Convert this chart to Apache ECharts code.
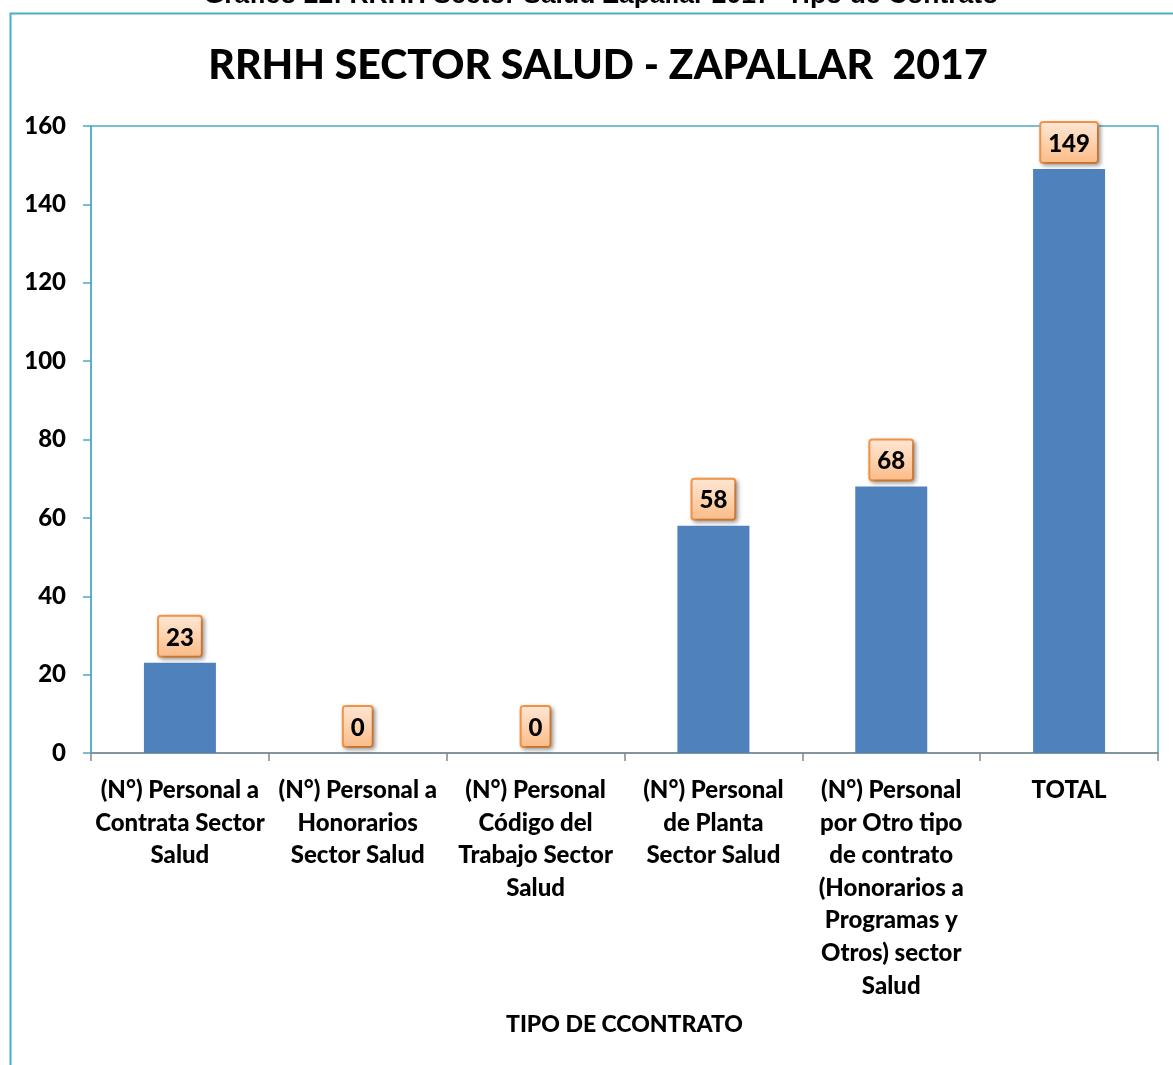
<!DOCTYPE html>
<html>
<head>
<meta charset="utf-8">
<script src="https://cdn.jsdelivr.net/npm/echarts@6/dist/echarts.min.js"></script>
<style>
  html, body { margin: 0; padding: 0; background: #fff; }
  #chart { width: 1173px; height: 1065px; }
</style>
</head>
<body>
<div id="chart"></div>
<script>
// Staff by contract type, health sector, Zapallar 2017
const categories = [
  '(N°) Personal a\nContrata Sector\nSalud',
  '(N°) Personal a\nHonorarios\nSector Salud',
  '(N°) Personal\nCódigo del\nTrabajo Sector\nSalud',
  '(N°) Personal\nde Planta\nSector Salud',
  '(N°) Personal\npor Otro tipo\nde contrato\n(Honorarios a\nProgramas y\nOtros) sector\nSalud',
  'TOTAL'
];
const staffCounts = [23, 0, 0, 58, 68, 149];
const yTicks = { min: 0, max: 160, interval: 20 };

const chartTitle = 'RRHH SECTOR SALUD - ZAPALLAR  2017';
const figureCaption = 'Gráfico 22: RRHH Sector Salud Zapallar 2017- Tipo de Contrato';
const xAxisTitle = 'TIPO DE CCONTRATO';

const FONT = 'Lato, "Open Sans", sans-serif';
const FRAME = '#4BACC6';

const chart = echarts.init(document.getElementById('chart'), null, { renderer: 'canvas' });

chart.setOption({
  animation: false,
  backgroundColor: '#ffffff',
  graphic: [
    {
      type: 'rect',
      shape: { x: 10.5, y: 13.5, width: 1200, height: 1100 },
      style: { fill: 'none', stroke: FRAME, lineWidth: 2 },
      silent: true
    },
    {
      type: 'text',
      x: 601, y: 9,
      style: {
        text: figureCaption,
        font: 'bold 26.5px "Liberation Sans", Arial, sans-serif',
        fill: '#000',
        textAlign: 'center',
        textVerticalAlign: 'bottom'
      }
    }
  ],
  title: {
    text: chartTitle,
    left: 593,
    textAlign: 'center',
    top: 40,
    textStyle: { fontFamily: FONT, fontWeight: 900, fontSize: 41, color: '#000' }
  },
  grid: {
    left: 91, top: 126, right: 15, bottom: 312,
    show: true, borderColor: FRAME, borderWidth: 1.5, backgroundColor: 'transparent'
  },
  xAxis: {
    type: 'category',
    data: categories,
    name: xAxisTitle,
    nameLocation: 'middle',
    nameGap: 260,
    nameTextStyle: { fontFamily: FONT, fontWeight: 900, fontSize: 23, color: '#000', verticalAlign: 'top' },
    axisLine: { lineStyle: { color: '#868686', width: 1.5 } },
    axisTick: { show: true, length: 8, lineStyle: { color: '#868686', width: 1.5 } },
    axisLabel: {
      interval: 0,
      margin: 21,
      fontFamily: FONT, fontWeight: 900, fontSize: 24, lineHeight: 32.6, color: '#000'
    }
  },
  yAxis: {
    type: 'value',
    min: yTicks.min, max: yTicks.max, interval: yTicks.interval,
    axisLine: { show: true, lineStyle: { color: FRAME, width: 1.5 } },
    axisTick: { show: true, length: 8, lineStyle: { color: FRAME, width: 1.5 } },
    splitLine: { show: false },
    axisLabel: { margin: 25, fontFamily: FONT, fontWeight: 900, fontSize: 24, color: '#000' }
  },
  series: [{
    type: 'bar',
    data: staffCounts,
    barWidth: 72,
    itemStyle: { color: '#4F81BD' },
    label: {
      show: true,
      position: 'top',
      distance: 7,
      fontFamily: FONT, fontWeight: 900, fontSize: 24, color: '#000',
      padding: [9, 7, 6, 7],
      borderColor: '#F79646', borderWidth: 2, borderRadius: 2,
      backgroundColor: {
        type: 'linear', x: 0, y: 0, x2: 0, y2: 1,
        colorStops: [
          { offset: 0, color: '#FEE7D6' },
          { offset: 0.5, color: '#FDD2AE' },
          { offset: 1, color: '#FBBA85' }
        ]
      },
      shadowColor: 'rgba(0,0,0,0.3)', shadowBlur: 4, shadowOffsetX: 2, shadowOffsetY: 2
    }
  }]
});
</script>
</body>
</html>
